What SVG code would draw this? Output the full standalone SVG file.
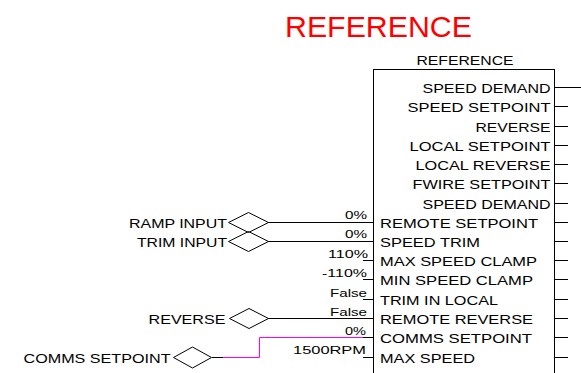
<svg xmlns="http://www.w3.org/2000/svg" width="581" height="373" viewBox="0 0 581 373">
<style>
text{font-family:"Liberation Sans",Arial,sans-serif;fill:#000}
.lbl{font-size:13px}
.val{font-size:11px;text-anchor:end}
.out{text-anchor:end}
.ln{stroke:#000;stroke-width:1;fill:none}
.dm{stroke:#000;stroke-width:1;fill:none}
.pk{stroke:#FF00FF;stroke-width:1;fill:none}
</style>
<rect width="581" height="373" fill="#fff"/>
<text x="285" y="37" font-size="30" style="fill:#FF0000" textLength="187" lengthAdjust="spacingAndGlyphs">REFERENCE</text>

<g id="connectors">
  <line class="ln" x1="268" y1="222.5" x2="374" y2="222.5"/>
  <line class="ln" x1="268" y1="241.5" x2="374" y2="241.5"/>
  <line class="ln" x1="268" y1="318.5" x2="374" y2="318.5"/>
  <line class="ln" x1="212" y1="357.5" x2="223" y2="357.5"/>
  <polyline class="pk" points="223,357.5 259.5,357.5 259.5,337.5 363,337.5" stroke="#FF00FF"/>
  <line class="ln" x1="363" y1="337.5" x2="374" y2="337.5"/>
</g>

<g id="ramp-input">
  <polygon class="dm" points="228.5,222.5 248.5,212.5 268.5,222.5 248.5,232.5"/>
  <text class="lbl out" x="227" y="227.5" textLength="98" lengthAdjust="spacingAndGlyphs">RAMP INPUT</text>
</g>
<g id="trim-input">
  <polygon class="dm" points="228.5,241.5 248.5,231.5 268.5,241.5 248.5,251.5"/>
  <text class="lbl out" x="227" y="246.5" textLength="90" lengthAdjust="spacingAndGlyphs">TRIM INPUT</text>
</g>
<g id="reverse-input">
  <polygon class="dm" points="229.5,318.5 249,308.5 268.5,318.5 249,328.5"/>
  <text class="lbl out" x="225.5" y="323.5" textLength="77" lengthAdjust="spacingAndGlyphs">REVERSE</text>
</g>
<g id="comms-setpoint-input">
  <polygon class="dm" points="173.5,357.5 192.5,347 211.5,357.5 192.5,368"/>
  <text class="lbl out" x="170.5" y="362.5" textLength="147" lengthAdjust="spacingAndGlyphs">COMMS SETPOINT</text>
</g>

<g id="reference-block">
  <text class="lbl" x="465" y="65" text-anchor="middle" textLength="97" lengthAdjust="spacingAndGlyphs">REFERENCE</text>
  <rect class="ln" x="373.5" y="69.5" width="181" height="330"/>
  <g class="ln">
    <line x1="554" y1="87.5" x2="581" y2="87.5"/>
    <line x1="554" y1="106.5" x2="568" y2="106.5"/>
    <line x1="554" y1="126.5" x2="568" y2="126.5"/>
    <line x1="554" y1="145.5" x2="568" y2="145.5"/>
    <line x1="554" y1="164.5" x2="568" y2="164.5"/>
    <line x1="554" y1="183.5" x2="568" y2="183.5"/>
    <line x1="554" y1="203.5" x2="568" y2="203.5"/>
    <line x1="554" y1="222.5" x2="568" y2="222.5"/>
    <line x1="554" y1="241.5" x2="568" y2="241.5"/>
    <line x1="554" y1="260.5" x2="568" y2="260.5"/>
    <line x1="554" y1="279.5" x2="568" y2="279.5"/>
    <line x1="554" y1="299.5" x2="568" y2="299.5"/>
    <line x1="554" y1="318.5" x2="568" y2="318.5"/>
    <line x1="554" y1="337.5" x2="568" y2="337.5"/>
    <line x1="554" y1="357.5" x2="568" y2="357.5"/>
    <line x1="363" y1="260.5" x2="374" y2="260.5"/>
    <line x1="363" y1="279.5" x2="374" y2="279.5"/>
    <line x1="363" y1="299.5" x2="374" y2="299.5"/>
    <line x1="363" y1="357.5" x2="374" y2="357.5"/>
  </g>
  <text class="lbl out" x="550.5" y="92.5" textLength="128" lengthAdjust="spacingAndGlyphs">SPEED DEMAND</text>
  <text class="lbl out" x="550.5" y="111.5" textLength="143" lengthAdjust="spacingAndGlyphs">SPEED SETPOINT</text>
  <text class="lbl out" x="550.5" y="131.5" textLength="75" lengthAdjust="spacingAndGlyphs">REVERSE</text>
  <text class="lbl out" x="550.5" y="150.5" textLength="141" lengthAdjust="spacingAndGlyphs">LOCAL SETPOINT</text>
  <text class="lbl out" x="550.5" y="169.5" textLength="135" lengthAdjust="spacingAndGlyphs">LOCAL REVERSE</text>
  <text class="lbl out" x="550.5" y="188.5" textLength="138" lengthAdjust="spacingAndGlyphs">FWIRE SETPOINT</text>
  <text class="lbl out" x="550.5" y="208.5" textLength="128" lengthAdjust="spacingAndGlyphs">SPEED DEMAND</text>
  <text class="lbl" x="380" y="227.5" textLength="158" lengthAdjust="spacingAndGlyphs">REMOTE SETPOINT</text>
  <text class="lbl" x="380" y="246.5" textLength="100" lengthAdjust="spacingAndGlyphs">SPEED TRIM</text>
  <text class="lbl" x="380" y="265.5" textLength="157" lengthAdjust="spacingAndGlyphs">MAX SPEED CLAMP</text>
  <text class="lbl" x="380" y="284.5" textLength="153" lengthAdjust="spacingAndGlyphs">MIN SPEED CLAMP</text>
  <text class="lbl" x="380" y="304.5" textLength="118" lengthAdjust="spacingAndGlyphs">TRIM IN LOCAL</text>
  <text class="lbl" x="380" y="323.5" textLength="153" lengthAdjust="spacingAndGlyphs">REMOTE REVERSE</text>
  <text class="lbl" x="380" y="342.5" textLength="152" lengthAdjust="spacingAndGlyphs">COMMS SETPOINT</text>
  <text class="lbl" x="380" y="362.5" textLength="95" lengthAdjust="spacingAndGlyphs">MAX SPEED</text>
  <text class="val" x="367" y="219" textLength="22" lengthAdjust="spacingAndGlyphs">0%</text>
  <text class="val" x="367" y="238" textLength="22" lengthAdjust="spacingAndGlyphs">0%</text>
  <text class="val" x="368" y="258" textLength="40" lengthAdjust="spacingAndGlyphs">110%</text>
  <text class="val" x="367" y="277" textLength="45" lengthAdjust="spacingAndGlyphs">-110%</text>
  <text class="val" x="367" y="296.5" textLength="37" lengthAdjust="spacingAndGlyphs">False</text>
  <text class="val" x="367" y="315.5" textLength="37" lengthAdjust="spacingAndGlyphs">False</text>
  <text class="val" x="366" y="334.5" textLength="21" lengthAdjust="spacingAndGlyphs">0%</text>
  <text class="val" x="366" y="353.5" textLength="73" lengthAdjust="spacingAndGlyphs">1500RPM</text>
</g>
</svg>
